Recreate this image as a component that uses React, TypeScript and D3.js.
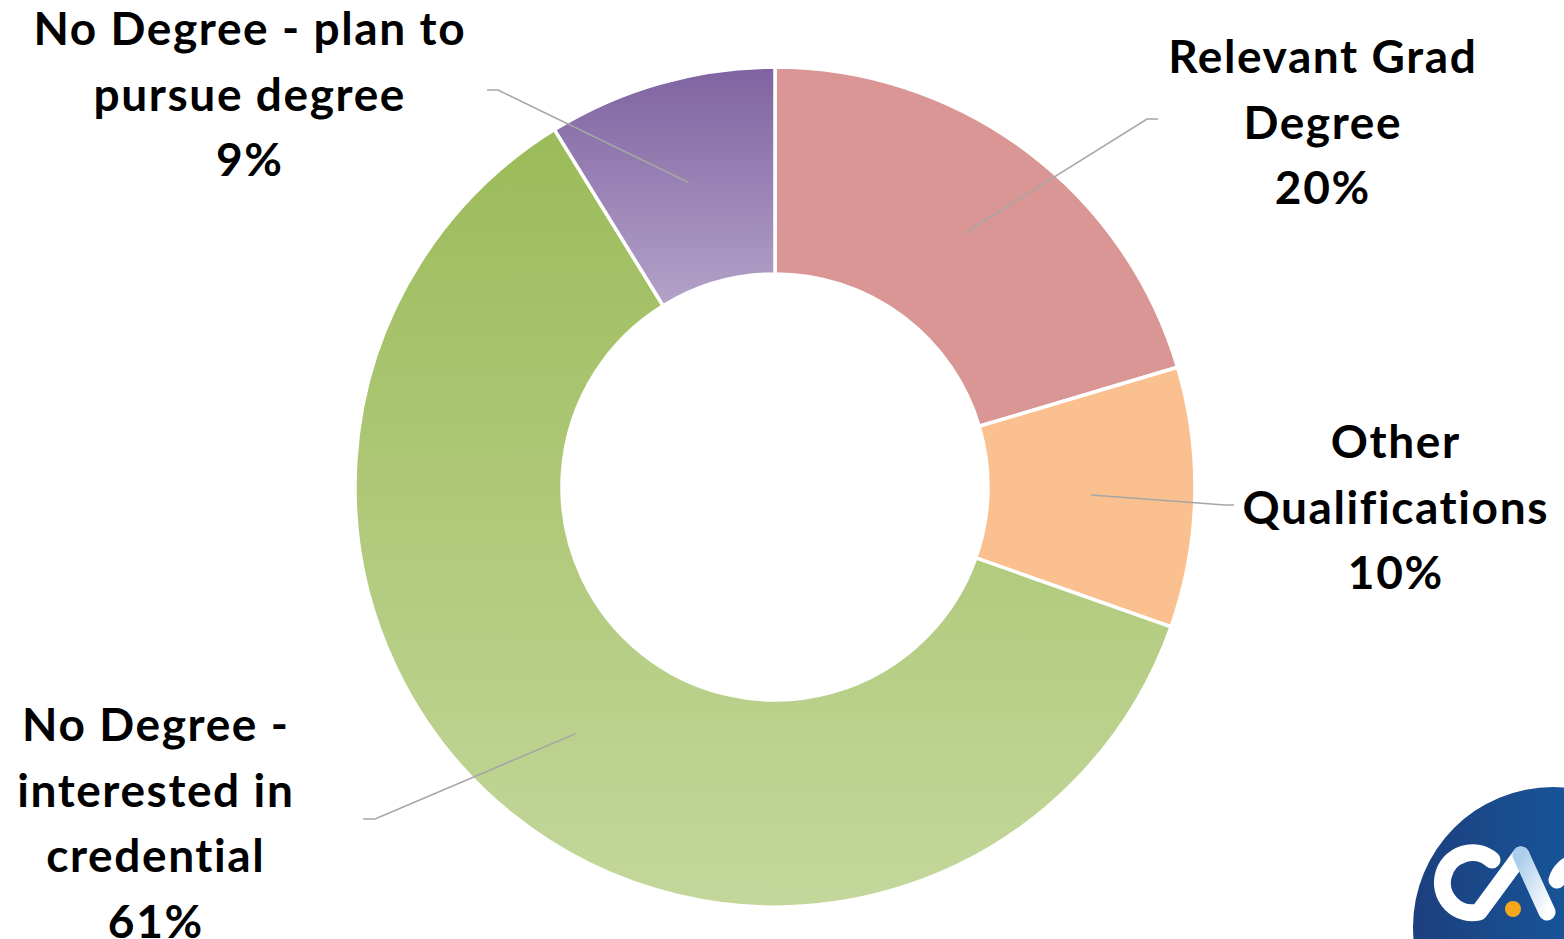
import React from "react";
import * as d3 from "d3";

const categories = [
  "Relevant Grad Degree",
  "Other Qualifications",
  "No Degree - interested in credential",
  "No Degree - plan to pursue degree",
];
const values = [20.4, 10.0, 60.8, 8.8];
const labelLines = [
  ["Relevant Grad", "Degree"],
  ["Other", "Qualifications"],
  ["No Degree -", "interested in", "credential"],
  ["No Degree - plan to", "pursue degree"],
];

const W = 1564;
const H = 939;
const CX = 775;
const CY = 487;
const R_OUT = 420;
const R_IN = 213;

// label layout: text center x, first line baseline y, elbow point, end point
const labelLayout = [
  { x: 1322, y: 73, elbow: [1147, 119], end: [1158, 119] },
  { x: 1395, y: 458, elbow: [1225, 505], end: [1234, 505] },
  { x: 155, y: 741, elbow: [375, 819], end: [363, 819] },
  { x: 249, y: 45, elbow: [498, 90], end: [487, 90] },
];

const fills = ["#D99694", "#FAC090", "url(#gGreen)", "url(#gPurple)"];

export default function App() {
  const pie = d3
    .pie<number>()
    .sort(null)
    .value((d) => d);
  const arcs = pie(values);
  const arcGen = d3
    .arc<d3.PieArcDatum<number>>()
    .innerRadius(R_IN)
    .outerRadius(R_OUT);

  const lineH = 65.5;
  const font = "Lato, 'Open Sans', sans-serif";
  const ls = 1.6;

  return (
    <svg
      width={W}
      height={H}
      style={{ position: "absolute", left: 0, top: 0, background: "#fff" }}
    >
      <defs>
        <linearGradient id="gGreen" x1="0" y1="0" x2="0" y2="1">
          <stop offset="0" stopColor="#9BBB59" />
          <stop offset="1" stopColor="#C4D79B" />
        </linearGradient>
        <linearGradient id="gPurple" x1="0" y1="0" x2="0" y2="1">
          <stop offset="0" stopColor="#7F63A1" />
          <stop offset="1" stopColor="#B3A2C8" />
        </linearGradient>
        <linearGradient id="gLogo" x1="0" y1="0" x2="1" y2="0">
          <stop offset="0" stopColor="#1C3F7E" />
          <stop offset="1" stopColor="#1466AE" />
        </linearGradient>
        <linearGradient id="gLeg" x1="0" y1="0" x2="1" y2="1">
          <stop offset="0" stopColor="#A9CDEB" />
          <stop offset="1" stopColor="#FFFFFF" />
        </linearGradient>
      </defs>

      <g transform={`translate(${CX},${CY})`}>
        {arcs.map((a, i) => (
          <path
            key={categories[i]}
            d={arcGen(a) || ""}
            fill={fills[i]}
            stroke="#fff"
            strokeWidth={3.5}
          />
        ))}
      </g>

      {arcs.map((a, i) => {
        const [cx, cy] = arcGen.centroid(a);
        const L = labelLayout[i];
        return (
          <polyline
            key={"l" + i}
            points={`${CX + cx},${CY + cy} ${L.elbow[0]},${L.elbow[1]} ${L.end[0]},${L.end[1]}`}
            fill="none"
            stroke="#A6A6A6"
            strokeWidth={1.6}
          />
        );
      })}

      {arcs.map((a, i) => {
        const L = labelLayout[i];
        const lines = [...labelLines[i], `${Math.round(values[i])}%`];
        return (
          <text
            key={"t" + i}
            x={L.x}
            y={L.y}
            textAnchor="middle"
            fontFamily={font}
            fontWeight={700}
            fontSize={46}
            letterSpacing={ls}
            fill="#000"
          >
            {lines.map((ln, j) => (
              <tspan key={j} x={L.x + ls / 2} y={L.y + j * lineH}>
                {ln}
              </tspan>
            ))}
          </text>
        );
      })}

      {/* logo */}
      <g>
        <circle cx={1553} cy={927} r={140} fill="url(#gLogo)" />
        <path
          d="M1492,860 A30,30 0 1 0 1479,912 L1521,855"
          fill="none"
          stroke="#fff"
          strokeWidth={17}
          strokeLinecap="round"
          strokeLinejoin="round"
        />
        <path
          d="M1521,855 L1547,912"
          fill="none"
          stroke="url(#gLeg)"
          strokeWidth={17}
          strokeLinecap="round"
        />
        <path
          d="M1576,862 A26,26 0 0 0 1557,880"
          fill="none"
          stroke="#fff"
          strokeWidth={17}
          strokeLinecap="round"
        />
        <circle cx={1513} cy={909} r={8} fill="#F5A81C" />
      </g>
    </svg>
  );
}
